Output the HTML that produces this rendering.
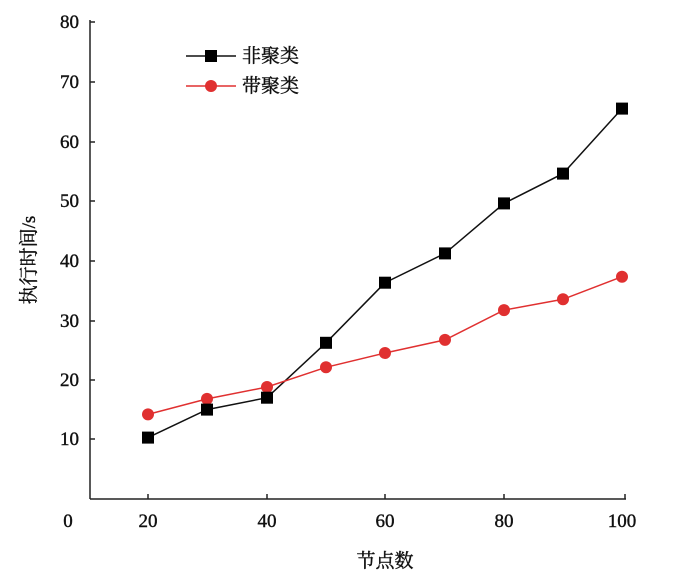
<!DOCTYPE html><html><head><meta charset="utf-8"><style>body{margin:0;background:#fff}</style></head><body>
<svg width="700" height="578" xmlns="http://www.w3.org/2000/svg" font-family="Liberation Serif, Noto Serif CJK SC, serif" font-size="19" fill="#111" stroke="#111" stroke-width="0.4">
<g stroke="#222" stroke-width="1.5" fill="none">
<line x1="90" y1="20" x2="90" y2="499"/><line x1="90" y1="499" x2="626" y2="499"/>
<line x1="90" y1="22" x2="95" y2="22"/><line x1="90" y1="82" x2="95" y2="82"/><line x1="90" y1="142" x2="95" y2="142"/><line x1="90" y1="201" x2="95" y2="201"/><line x1="90" y1="261" x2="95" y2="261"/><line x1="90" y1="321" x2="95" y2="321"/><line x1="90" y1="380" x2="95" y2="380"/><line x1="90" y1="439" x2="95" y2="439"/>
<line x1="148" y1="499" x2="148" y2="494"/><line x1="267" y1="499" x2="267" y2="494"/><line x1="385" y1="499" x2="385" y2="494"/><line x1="504" y1="499" x2="504" y2="494"/><line x1="625" y1="499" x2="625" y2="494"/>
</g>
<g text-anchor="end"><text x="79" y="28">80</text><text x="79" y="88">70</text><text x="79" y="148">60</text><text x="79" y="207">50</text><text x="79" y="267">40</text><text x="79" y="327">30</text><text x="79" y="386">20</text><text x="79" y="445">10</text></g>
<g text-anchor="middle"><text x="68" y="527">0</text><text x="148" y="527">20</text><text x="267" y="527">40</text><text x="385" y="527">60</text><text x="504" y="527">80</text><text x="622" y="527">100</text>
<text x="385" y="567">节点数</text>
<text transform="translate(35,260) rotate(-90)">执行时间/s</text></g>
<g stroke-width="1.5">
<polyline fill="none" stroke="#111" points="148,437.6 207,409.6 267,397.7 326,342.8 385,282.7 445,253.4 504,203.4 563,173.6 622,108.6"/>
<polyline fill="none" stroke="#e03030" points="148,414.4 207,398.9 267,387 326,367.3 385,353 445,339.9 504,310.1 563,299.3 622,276.7"/>
</g>
<g fill="#e03030" stroke="none"><circle cx="148" cy="414.4" r="6"/><circle cx="207" cy="398.9" r="6"/><circle cx="267" cy="387" r="6"/><circle cx="326" cy="367.3" r="6"/><circle cx="385" cy="353" r="6"/><circle cx="445" cy="339.9" r="6"/><circle cx="504" cy="310.1" r="6"/><circle cx="563" cy="299.3" r="6"/><circle cx="622" cy="276.7" r="6"/></g>
<g fill="#000" stroke="none"><rect x="142" y="431.6" width="12" height="12"/><rect x="201" y="403.6" width="12" height="12"/><rect x="261" y="391.7" width="12" height="12"/><rect x="320" y="336.8" width="12" height="12"/><rect x="379" y="276.7" width="12" height="12"/><rect x="439" y="247.4" width="12" height="12"/><rect x="498" y="197.4" width="12" height="12"/><rect x="557" y="167.6" width="12" height="12"/><rect x="616" y="102.6" width="12" height="12"/></g>
<line x1="186" y1="56" x2="236" y2="56" stroke="#111" stroke-width="1.5"/><rect x="205" y="50" width="12" height="12" fill="#000" stroke="none"/>
<line x1="186" y1="86" x2="236" y2="86" stroke="#e03030" stroke-width="1.5"/><circle cx="211" cy="86" r="6" fill="#e03030" stroke="none"/>
<text x="242" y="62">非聚类</text><text x="242" y="92">带聚类</text>
</svg></body></html>
